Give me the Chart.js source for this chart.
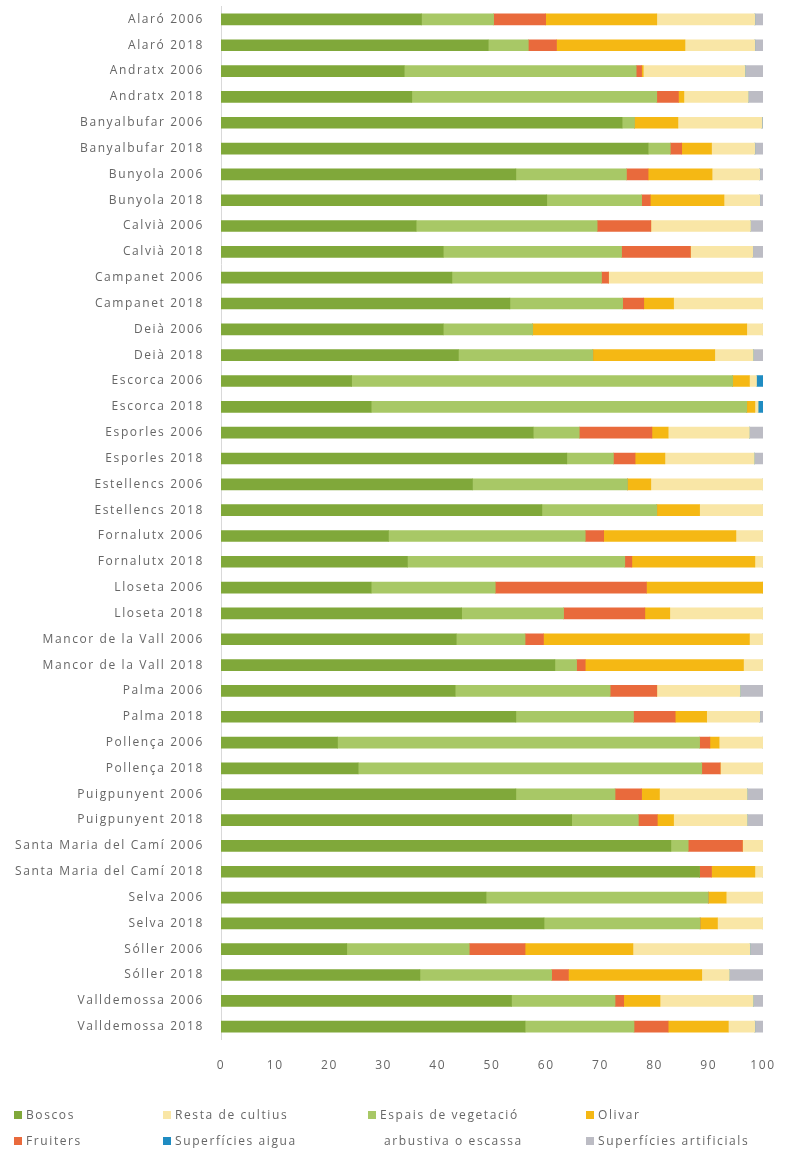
<!DOCTYPE html>
<html>
<head>
<meta charset="utf-8">
<script src="https://cdn.jsdelivr.net/npm/chart.js@4/dist/chart.umd.min.js"></script>
<style>
  html, body { margin: 0; padding: 0; background: #fff; }
  #wrap { position: relative; width: 795px; height: 1160px; }
  #chartBox { position: absolute; left: 0; top: 0; width: 795px; height: 1104px; }
  #legend { position: absolute; left: 0; top: 1100px; width: 795px; height: 55px;
            font-family: "Open Sans", sans-serif; font-size: 12px; color: #666;
            letter-spacing: 1.6px; }
  .item { position: absolute; white-space: nowrap; line-height: 14px; }
  .box { display: inline-block; width: 8px; height: 8px; margin-right: 4px; vertical-align: 0px; }
</style>
</head>
<body>
<div id="wrap">
  <div id="chartBox"><canvas id="chart"></canvas></div>
  <div id="legend"></div>
</div>
<script>
const towns = ["Alaró", "Andratx", "Banyalbufar", "Bunyola", "Calvià", "Campanet", "Deià",
  "Escorca", "Esporles", "Estellencs", "Fornalutx", "Lloseta", "Mancor de la Vall", "Palma",
  "Pollença", "Puigpunyent", "Santa Maria del Camí", "Selva", "Sóller", "Valldemossa"];
const years = ["2006", "2018"];
const labels = towns.flatMap(t => years.map(y => t + " " + y));

// % of surface per land use, one value per label
const boscos = [37.0, 49.3, 33.8, 35.2, 74.0, 78.8, 54.4, 60.1, 36.0, 41.0,
  42.6, 53.3, 41.0, 43.8, 24.1, 27.7, 57.6, 63.8, 46.4, 59.2,
  30.9, 34.4, 27.7, 44.4, 43.4, 61.6, 43.2, 54.4, 21.5, 25.3,
  54.4, 64.7, 83.0, 88.3, 48.9, 59.6, 23.2, 36.7, 53.6, 56.1];
const espais = [13.3, 7.4, 42.8, 45.2, 2.3, 4.1, 20.4, 17.5, 33.4, 32.9,
  27.6, 20.8, 16.5, 24.8, 70.3, 69.3, 8.5, 8.6, 28.6, 21.2,
  36.3, 40.1, 22.9, 18.8, 12.7, 4.0, 28.6, 21.7, 66.8, 63.4,
  18.3, 12.3, 3.2, 0, 41.0, 28.8, 22.6, 24.3, 19.1, 20.1];
const fruiters = [9.6, 5.2, 1.0, 4.0, 0, 2.1, 4.0, 1.6, 9.9, 12.7,
  1.3, 3.9, 0, 0, 0, 0, 13.4, 4.0, 0, 0,
  3.4, 1.3, 27.9, 15.0, 3.4, 1.6, 8.6, 7.7, 1.9, 3.4,
  4.9, 3.5, 10.0, 2.2, 0, 0, 10.3, 3.1, 1.6, 6.3];
const olivar = [20.5, 23.7, 0.3, 1.0, 8.0, 5.5, 11.8, 13.6, 0, 0,
  0, 5.5, 39.5, 22.5, 3.1, 1.5, 3.0, 5.5, 4.3, 7.9,
  24.4, 22.7, 21.5, 4.6, 38.0, 29.2, 0, 5.8, 1.7, 0,
  3.3, 3.0, 0, 8.0, 3.3, 3.2, 19.9, 24.6, 6.7, 11.1];
const resta = [18.1, 12.9, 18.8, 11.9, 15.5, 8.0, 8.8, 6.6, 18.4, 11.5,
  28.5, 16.5, 3.0, 7.1, 1.3, 0.6, 15.0, 16.5, 20.7, 11.7,
  5.0, 1.5, 0, 17.2, 2.5, 3.6, 15.4, 9.8, 8.1, 7.9,
  16.2, 13.6, 3.8, 1.5, 6.8, 8.4, 21.6, 5.1, 17.2, 4.9];
const aigua = [0, 0, 0, 0, 0, 0, 0, 0, 0, 0,
  0, 0, 0, 0, 1.2, 0.9, 0, 0, 0, 0,
  0, 0, 0, 0, 0, 0, 0, 0, 0, 0,
  0, 0, 0, 0, 0, 0, 0, 0, 0, 0];
const artificials = [1.5, 1.5, 3.3, 2.7, 0.2, 1.5, 0.6, 0.6, 2.3, 1.9,
  0, 0, 0, 1.8, 0, 0, 2.5, 1.6, 0, 0,
  0, 0, 0, 0, 0, 0, 4.2, 0.6, 0, 0,
  2.9, 2.9, 0, 0, 0, 0, 2.4, 6.2, 1.8, 1.5];

const TEXT_COLOR = "#666666";
const FONT = "'Open Sans', sans-serif";
const LETTER_SPACING = "1.6px";

const series = [
  { label: "Boscos", data: boscos, color: "#80a83a" },
  { label: "Espais de vegetació arbustiva o escassa", data: espais, color: "#a8c866" },
  { label: "Fruiters", data: fruiters, color: "#e96a3c" },
  { label: "Olivar", data: olivar, color: "#f5b814" },
  { label: "Resta de cultius", data: resta, color: "#f9e6a6" },
  { label: "Superfícies aigua", data: aigua, color: "#1f8cc2" },
  { label: "Superfícies artificials", data: artificials, color: "#bcbcc4" },
];

// canvas resets its state on resize, so re-apply the spacing before layout and draw
const letterSpacingPlugin = {
  id: "letterSpacing",
  beforeLayout: (chart) => { chart.ctx.letterSpacing = LETTER_SPACING; },
  beforeDraw: (chart) => { chart.ctx.letterSpacing = LETTER_SPACING; },
};

const chart = new Chart(document.getElementById("chart"), {
  type: "bar",
  plugins: [letterSpacingPlugin],
  data: {
    labels: labels,
    datasets: series.map(s => ({
      label: s.label,
      data: s.data,
      backgroundColor: s.color,
      borderWidth: 0,
      barThickness: 11,
    })),
  },
  options: {
    indexAxis: "y",
    responsive: true,
    maintainAspectRatio: false,
    animation: false,
    layout: { padding: { top: 6.5, right: 32, bottom: 12, left: 0 } },
    plugins: {
      legend: { display: false },
      tooltip: { enabled: false },
    },
    scales: {
      x: {
        stacked: true,
        min: 0,
        max: 100,
        ticks: { stepSize: 10, padding: 19, color: TEXT_COLOR, font: { family: FONT, size: 12 } },
        grid: { display: false, drawTicks: false },
        border: { display: false },
      },
      y: {
        stacked: true,
        afterFit: (scale) => { scale.width = 221; },
        ticks: { padding: 0, color: TEXT_COLOR, font: { family: FONT, size: 12, lineHeight: 0.8 } },
        grid: { display: true, drawOnChartArea: false, drawTicks: true, tickLength: 17, color: "rgba(0,0,0,0)" },
        border: { display: true, color: "#d9d9d9", width: 1 },
      },
    },
  },
});

// legend laid out in 4 columns, two rows
const legendSlots = [
  { name: "Boscos", x: 14, y: 8 },
  { name: "Resta de cultius", x: 163, y: 8 },
  { name: "Espais de vegetació arbustiva o escassa", x: 368, y: 8, lines: ["Espais de vegetació", "arbustiva o escassa"] },
  { name: "Olivar", x: 586, y: 8 },
  { name: "Fruiters", x: 14, y: 34 },
  { name: "Superfícies aigua", x: 163, y: 34 },
  { name: "Superfícies artificials", x: 586, y: 34 },
];
const legendEl = document.getElementById("legend");
legendSlots.forEach(slot => {
  const ds = chart.data.datasets.find(d => d.label === slot.name);
  const div = document.createElement("div");
  div.className = "item";
  div.style.left = slot.x + "px";
  div.style.top = slot.y + "px";
  const box = `<span class="box" style="background:${ds.backgroundColor}"></span>`;
  if (slot.lines) {
    div.style.lineHeight = "26px";
    div.style.top = (slot.y - 6) + "px";
    div.innerHTML = box + slot.lines[0] + `<br><span style="padding-left:16px">${slot.lines[1]}</span>`;
  } else {
    div.innerHTML = box + slot.name;
  }
  legendEl.appendChild(div);
});
</script>
</body>
</html>
